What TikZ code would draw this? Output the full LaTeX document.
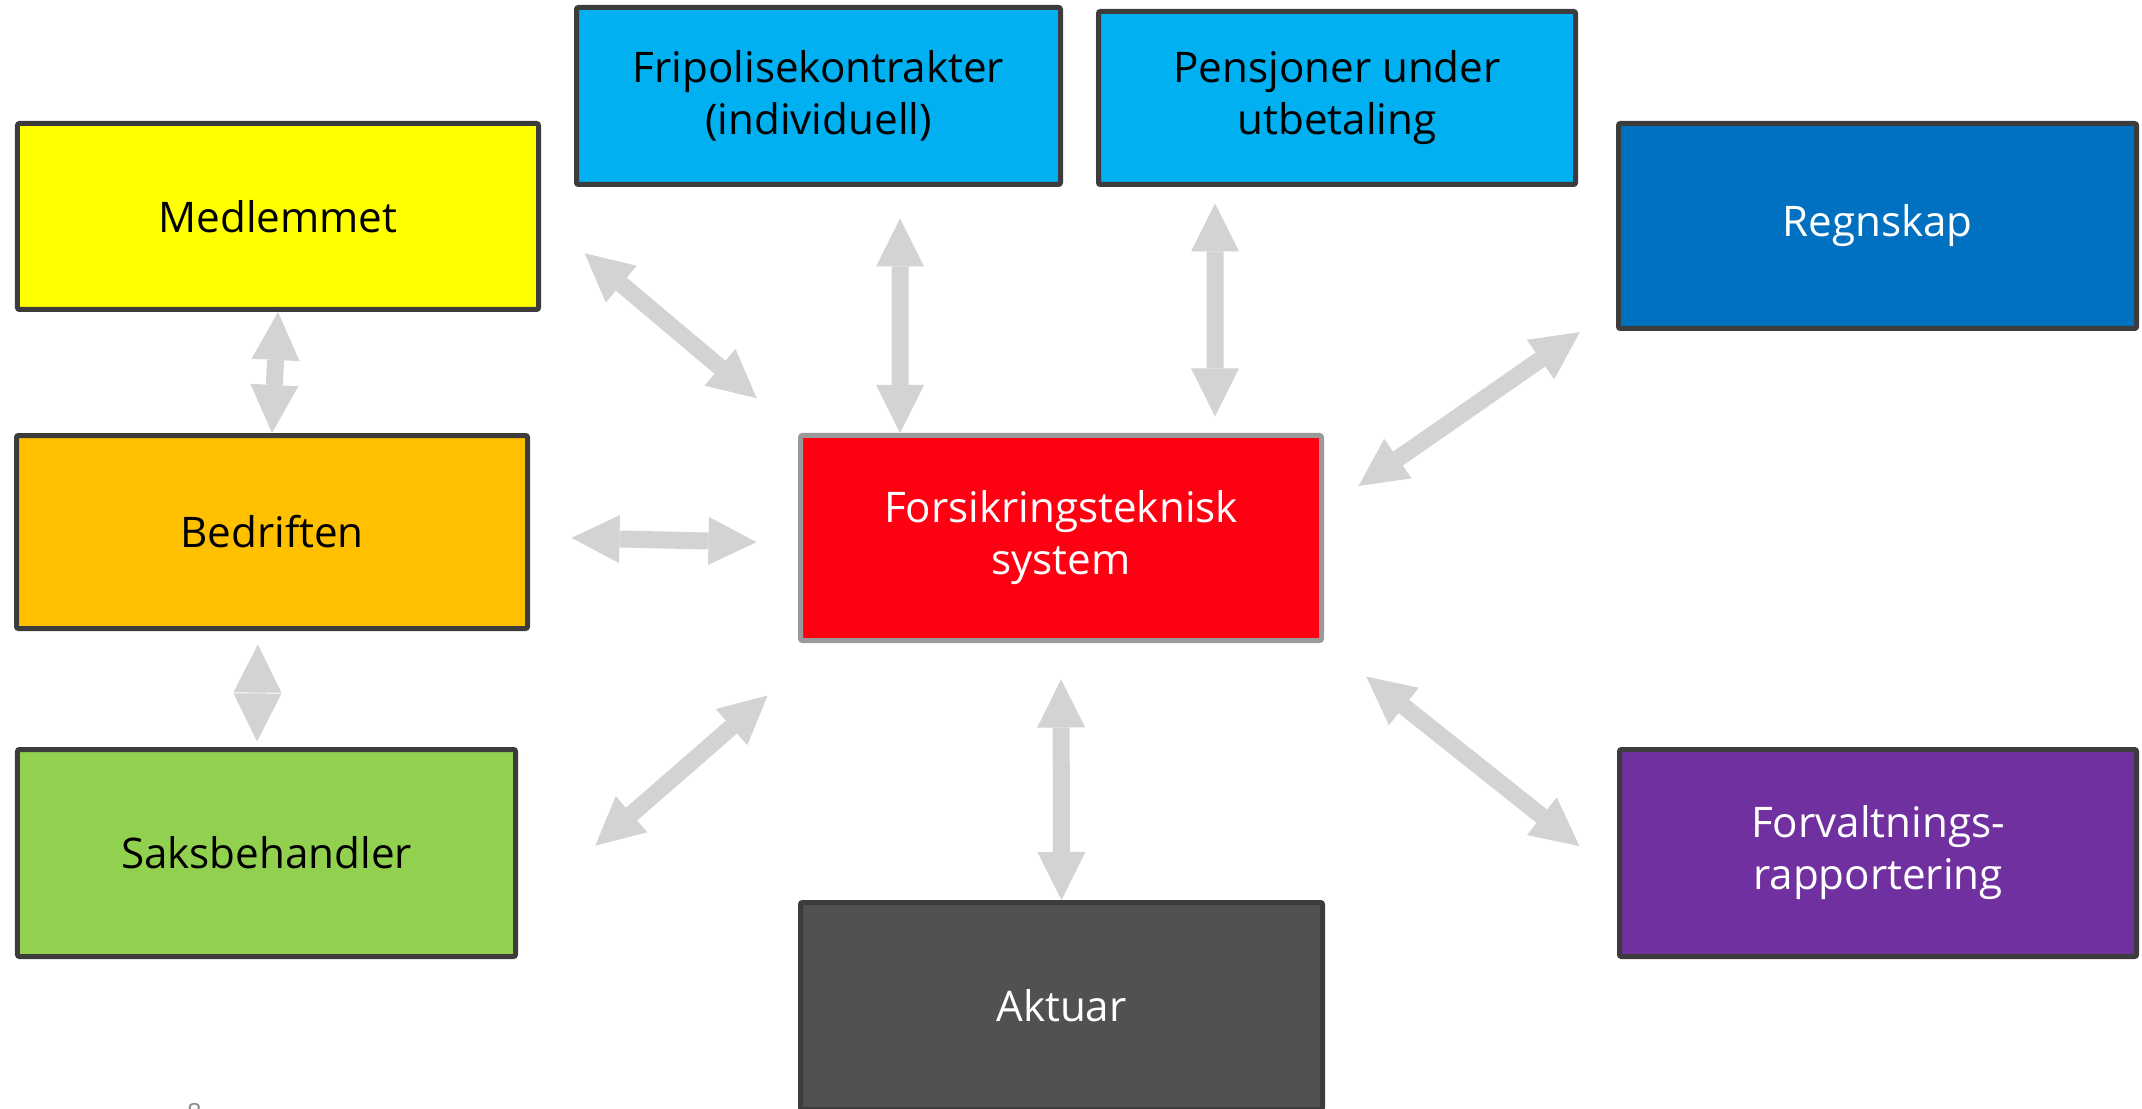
\documentclass[tikz,border=0pt]{standalone}
\usepackage{fontspec}
\setmainfont{Open Sans}
\usepackage{tikz}
\usetikzlibrary{arrows.meta}
\definecolor{boxline}{HTML}{3C3C3C}
\definecolor{sysline}{HTML}{9A9A9A}
\definecolor{linkgray}{HTML}{D3D3D3}
\definecolor{medyellow}{HTML}{FFFF00}
\definecolor{lightblue}{HTML}{00B0F0}
\definecolor{darkblue}{HTML}{0070C0}
\definecolor{bedorange}{HTML}{FFC000}
\definecolor{sysred}{HTML}{FF0012}
\definecolor{saksgreen}{HTML}{92D050}
\definecolor{frvpurple}{HTML}{7030A0}
\definecolor{aktgray}{HTML}{515151}
\definecolor{pagegray}{HTML}{8C8C8C}

\begin{document}
\begin{tikzpicture}[
    box/.style={draw=boxline, line width=0.05cm, rounded corners=0.02cm, inner sep=0pt, align=center, font=\fontsize{12}{14.8}\selectfont},
    link/.style={draw=linkgray, line width=0.17cm, {Triangle[length=0.48cm, width=0.48cm, line width=0pt]}-{Triangle[length=0.48cm, width=0.48cm, line width=0pt]}}
]
    \useasboundingbox (0, 0) rectangle (21.42, -11.09);
    \node [box, fill=medyellow, minimum width=5.21cm, minimum height=1.86cm] (med) at (2.78, -2.165) {Medlemmet};
    \node [box, fill=lightblue, minimum width=4.84cm, minimum height=1.77cm] (fri) at (8.185, -0.96) {Fripolisekontrakter\\(individuell)};
    \node [box, fill=lightblue, minimum width=4.77cm, minimum height=1.73cm] (pen) at (13.37, -0.98) {Pensjoner under\\utbetaling};
    \node [box, fill=darkblue, text=white, minimum width=5.18cm, minimum height=2.05cm] (reg) at (18.775, -2.26) {Regnskap};
    \node [box, fill=bedorange, minimum width=5.11cm, minimum height=1.93cm] (bed) at (2.72, -5.32) {Bedriften};
    \node [box, draw=sysline, fill=sysred, text=white, minimum width=5.21cm, minimum height=2.05cm] (sys) at (10.61, -5.38) {Forsikringsteknisk\\system};
    \node [box, fill=saksgreen, minimum width=4.98cm, minimum height=2.07cm] (sak) at (2.665, -8.53) {Saksbehandler};
    \node [box, fill=frvpurple, text=white, minimum width=5.17cm, minimum height=2.07cm] (frv) at (18.78, -8.53) {Forvaltnings-\\rapportering};
    \node [box, fill=aktgray, text=white, minimum width=5.22cm, minimum height=2.07cm] (akt) at (10.615, -10.06) {Aktuar};

    \draw [link] (med.south) -- (bed.north);
    \draw [link, shorten <=0.135cm, shorten >=0.055cm] ([xshift=-0.14cm]bed.south) -- ([xshift=-0.095cm]sak.north);
    \draw [link, shorten <=0.415cm, shorten >=0.415cm] ([yshift=-0.05cm]bed.east) -- ([yshift=-0.05cm]sys.west);
    \draw [link, shorten <=1.025cm, shorten >=0.8cm] ([yshift=-0.6cm]sak.east) -- ([xshift=0.3cm]sys.south west);
    \draw [link, shorten <=0.57cm, shorten >=0.54cm] (med.east) -- (sys.north west);
    \draw [link, shorten <=0.315cm] ([xshift=0.815cm]fri.south) -- ([xshift=-1.61cm]sys.north);
    \draw [link, shorten <=0.165cm, shorten >=0.165cm] ([xshift=-1.22cm]pen.south) -- ([xshift=1.54cm]sys.north);
    \draw [link, shorten <=0.42cm, shorten >=0.44cm] ([yshift=0.28cm]sys.east) -- ([yshift=0.24cm]reg.south west);
    \draw [link, shorten <=0.54cm, shorten >=0.48cm] (sys.south east) -- ([yshift=-0.23cm]frv.west);
    \draw [link, shorten <=0.365cm] (sys.south) -- (akt.north);

    \node [anchor=north, inner sep=0pt, text=pagegray, font=\fontsize{7.5}{9}\selectfont] (pagenum) at (1.945, -11.03) {8};
\end{tikzpicture}
\end{document}
